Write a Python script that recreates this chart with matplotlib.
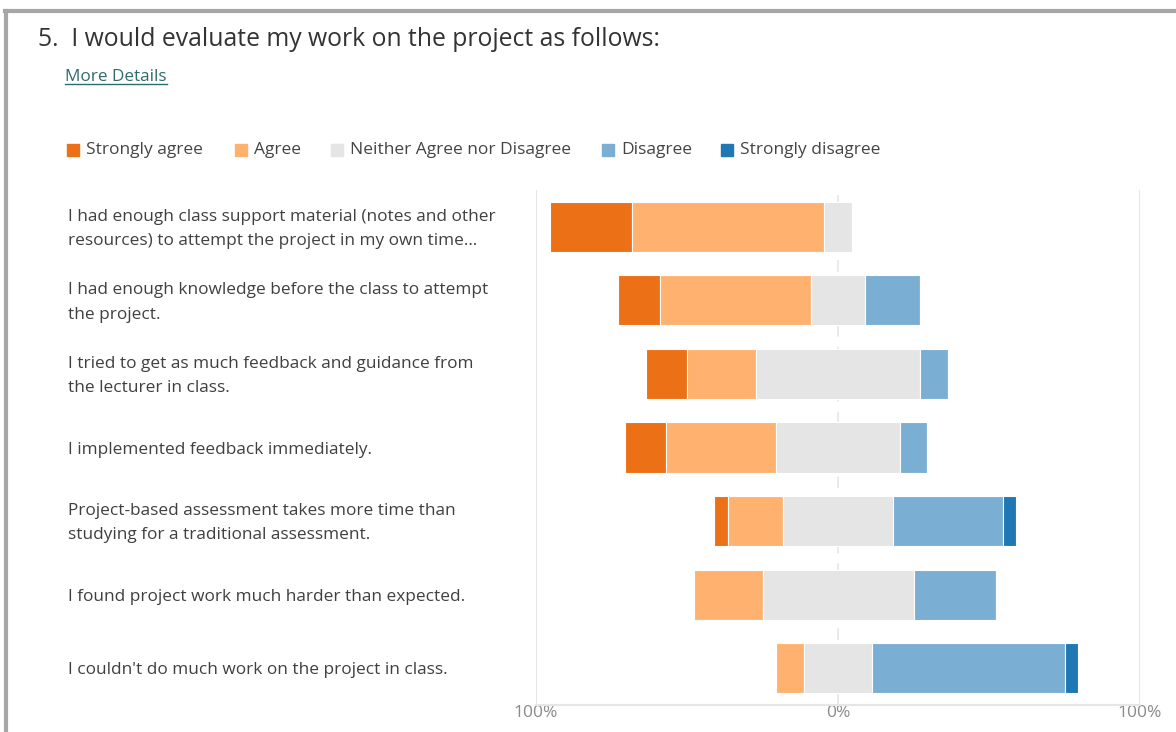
import numpy as np
import matplotlib.pyplot as plt
from matplotlib.lines import Line2D
from matplotlib.patches import Rectangle
from matplotlib.transforms import blended_transform_factory, offset_copy

plt.rcParams['font.family'] = ['Open Sans', 'DejaVu Sans']

# responses per statement (22 respondents)
statements = [
    "I had enough class support material (notes and other\nresources) to attempt the project in my own time\u2026",
    "I had enough knowledge before the class to attempt\nthe project.",
    "I tried to get as much feedback and guidance from\nthe lecturer in class.",
    "I implemented feedback immediately.",
    "Project-based assessment takes more time than\nstudying for a traditional assessment.",
    "I found project work much harder than expected.",
    "I couldn't do much work on the project in class.",
]
levels = ["Strongly agree", "Agree", "Neither Agree nor Disagree",
          "Disagree", "Strongly disagree"]
strongly_agree = [6, 3, 3, 3, 1, 0, 0]
agree = [14, 11, 5, 8, 4, 5, 2]
neutral = [2, 4, 12, 9, 8, 11, 5]
disagree = [0, 4, 2, 2, 8, 6, 14]
strongly_disagree = [0, 0, 0, 0, 1, 0, 1]
respondents = 22

colors = ["#EC7016", "#FFB26F", "#E5E5E5", "#7BAED3", "#1F78B4"]

counts = np.array([strongly_agree, agree, neutral, disagree, strongly_disagree], float)
pct = counts / respondents * 100
# neutral is split around zero
start = -(pct[0] + pct[1] + pct[2] / 2)

fig = plt.figure(figsize=(11.76, 7.32), dpi=100)
ax = fig.add_axes([536 / 1176, 1 - 705 / 732, 604 / 1176, 515 / 732])

y = np.arange(len(statements))
left = start.copy()
for i, name in enumerate(levels):
    ax.barh(y, pct[i], left=left, height=0.68, color=colors[i],
            edgecolor='white', linewidth=0.8, zorder=3)
    left = left + pct[i]

ax.set_xlim(-100, 100)
ax.set_ylim(6.5, -0.5)
for s in ['top', 'right', 'left']:
    ax.spines[s].set_visible(False)
ax.spines['bottom'].set_color('#E6E6E6')
ax.spines['bottom'].set_linewidth(1.5)
ax.axvline(-100, color='#E6E6E6', lw=1.5, zorder=1)
ax.axvline(100, color='#E6E6E6', lw=1.5, zorder=1)
ax.axvline(0, color='#E6E6E6', lw=1.2, ls=(0, (7, 6)), zorder=1)
ax.set_yticks([])
ax.set_xticks([-100, 0, 100])
ax.set_xticklabels(["100%", "0%", "100%"], color='#8A8A8A', fontsize=12.5)
ax.tick_params(axis='x', length=0, pad=0)

trans = blended_transform_factory(fig.transFigure, ax.transData)
trans = offset_copy(trans, fig=fig, y=-2, units='dots')
for yi, text in zip(y, statements):
    ax.text(68 / 1176, yi, text, transform=trans, ha='left', va='center',
            fontsize=12.4, color='#404040', linespacing=1.7)

fig.text(38 / 1176, 1 - 39 / 732, "5.  I would evaluate my work on the project as follows:",
         fontsize=17.8, color='#333333', va='center', ha='left')
link = fig.text(65 / 1176, 1 - 77 / 732, "More Details", fontsize=12.3,
                color='#2E6B6B', va='center', ha='left')

# legend row
legend_x = [67, 235, 331, 602, 721]
for xs, name, c in zip(legend_x, levels, colors):
    fig.patches.append(Rectangle((xs / 1176, 1 - 156 / 732), 12 / 1176, 12 / 732,
                                 transform=fig.transFigure, color=c))
    fig.text((xs + 19) / 1176, 1 - 150 / 732, name, fontsize=12.5,
             color='#444444', va='center', ha='left')

# frame lines
fig.add_artist(Line2D([5 / 1176, 1], [1 - 11 / 732] * 2, transform=fig.transFigure,
                      color='#A6A6A6', lw=3))
fig.add_artist(Line2D([6 / 1176] * 2, [0, 1 - 11 / 732], transform=fig.transFigure,
                      color='#A6A6A6', lw=3))

# underline for the link
fig.canvas.draw()
bb = link.get_window_extent().transformed(fig.transFigure.inverted())
fig.add_artist(Line2D([bb.x0, bb.x1], [bb.y0 + 0.002] * 2, transform=fig.transFigure,
                      color='#2E6B6B', lw=1))

fig.savefig('out.png', dpi=100)
